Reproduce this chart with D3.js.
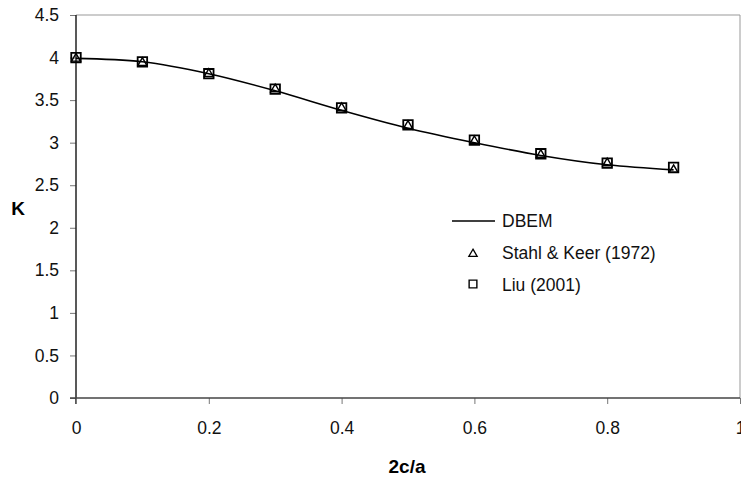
<!DOCTYPE html>
<html lang="en"><head>
<meta charset="UTF-8">
<title>K vs 2c/a</title>
<script src="https://cdn.jsdelivr.net/npm/d3@7"></script>
<style>
body { margin: 0; background: #fff; }
text { font-family: "Liberation Sans", Arial, sans-serif; }
</style>
</head>
<body>
<div id="chart"></div>
<script>

// values
var xVals = [0, 0.1, 0.2, 0.3, 0.4, 0.5, 0.6, 0.7, 0.8, 0.9];
var dbem = [3.99, 3.95, 3.81, 3.61, 3.38, 3.17, 3.00, 2.85, 2.74, 2.68];
var stahl = [4.00, 3.95, 3.82, 3.64, 3.42, 3.21, 3.03, 2.87, 2.77, 2.69];
var liu = [4.00, 3.95, 3.81, 3.63, 3.41, 3.21, 3.03, 2.87, 2.76, 2.71];
var xTicks = [0, 0.2, 0.4, 0.6, 0.8, 1];
var yTicks = [0, 0.5, 1, 1.5, 2, 2.5, 3, 3.5, 4, 4.5];
var legendNames = ["DBEM", "Stahl & Keer (1972)", "Liu (2001)"];

var width = 741, height = 480;
var margin = {left: 76, right: 1, top: 15, bottom: 82};

var svg = d3.select("#chart").append("svg")
  .attr("width", width)
  .attr("height", height);

var x = d3.scaleLinear().domain([0, 1]).range([margin.left, width - margin.right]);
var y = d3.scaleLinear().domain([0, 4.5]).range([height - margin.bottom, margin.top]);

// frame: grey top and right
svg.append("line")
  .attr("x1", x(0)).attr("x2", x(1)).attr("y1", y(4.5)).attr("y2", y(4.5))
  .attr("stroke", "#999").attr("stroke-width", 1);
svg.append("line")
  .attr("x1", x(1)).attr("x2", x(1)).attr("y1", y(4.5)).attr("y2", y(0))
  .attr("stroke", "#999").attr("stroke-width", 1);

// y axis
var yAxis = svg.append("g")
  .attr("transform", "translate(" + x(0) + ",0)")
  .call(d3.axisLeft(y).tickValues(yTicks).tickSize(6).tickPadding(11)
    .tickFormat(function (d) { return d; }));
yAxis.select(".domain").remove();
yAxis.selectAll(".tick line").attr("stroke", "#777");
yAxis.selectAll("text").attr("font-size", 17.5).attr("fill", "#111")
  .attr("font-family", "Liberation Sans, Arial, sans-serif");
svg.append("line")
  .attr("x1", x(0)).attr("x2", x(0)).attr("y1", y(4.5)).attr("y2", y(0) + 6)
  .attr("stroke", "#222").attr("stroke-width", 1.5);

// x axis
var xAxis = svg.append("g")
  .attr("transform", "translate(0," + y(0) + ")")
  .call(d3.axisBottom(x).tickValues(xTicks).tickSize(6).tickPadding(18)
    .tickFormat(function (d) { return d; }));
xAxis.select(".domain").remove();
xAxis.selectAll(".tick line").attr("stroke", "#777");
xAxis.selectAll("text").attr("font-size", 17.5).attr("fill", "#111")
  .attr("font-family", "Liberation Sans, Arial, sans-serif");
svg.append("line")
  .attr("x1", x(0) - 6).attr("x2", x(1)).attr("y1", y(0)).attr("y2", y(0))
  .attr("stroke", "#444").attr("stroke-width", 1.5);

// axis titles
svg.append("text")
  .attr("x", 18).attr("y", 215)
  .attr("text-anchor", "middle")
  .attr("font-size", 19).attr("font-weight", "bold")
  .text("K");
svg.append("text")
  .attr("x", 407).attr("y", 473)
  .attr("text-anchor", "middle")
  .attr("font-size", 19).attr("font-weight", "bold")
  .text("2c/a");

// DBEM smooth line
var lineData = xVals.map(function (d, i) { return [d, dbem[i]]; });
var line = d3.line()
  .x(function (d) { return x(d[0]); })
  .y(function (d) { return y(d[1]); })
  .curve(d3.curveCatmullRom.alpha(0.5));
svg.append("path")
  .datum(lineData)
  .attr("d", line)
  .attr("fill", "none")
  .attr("stroke", "#000")
  .attr("stroke-width", 1.6);

var tri = d3.symbol().type(d3.symbolTriangle).size(34);
var sq = d3.symbol().type(d3.symbolSquare).size(90);

// Stahl & Keer triangles
svg.selectAll(".tri").data(xVals).enter().append("path")
  .attr("class", "tri")
  .attr("d", tri)
  .attr("transform", function (d, i) { return "translate(" + x(d) + "," + (y(stahl[i]) + 1) + ")"; })
  .attr("fill", "none").attr("stroke", "#000").attr("stroke-width", 1.4);

// Liu squares
svg.selectAll(".sq").data(xVals).enter().append("path")
  .attr("class", "sq")
  .attr("d", sq)
  .attr("transform", function (d, i) { return "translate(" + x(d) + "," + y(liu[i]) + ")"; })
  .attr("fill", "none").attr("stroke", "#000").attr("stroke-width", 1.8);

// legend
var lg = svg.append("g");
lg.append("line")
  .attr("x1", 452).attr("x2", 495).attr("y1", 221).attr("y2", 221)
  .attr("stroke", "#000").attr("stroke-width", 1.6);
lg.append("path")
  .attr("d", d3.symbol().type(d3.symbolTriangle).size(30))
  .attr("transform", "translate(473,254)")
  .attr("fill", "none").attr("stroke", "#000").attr("stroke-width", 1.3);
lg.append("path")
  .attr("d", d3.symbol().type(d3.symbolSquare).size(60))
  .attr("transform", "translate(473,284)")
  .attr("fill", "none").attr("stroke", "#000").attr("stroke-width", 1.4);
lg.selectAll("text").data(legendNames).enter().append("text")
  .attr("x", 502)
  .attr("y", function (d, i) { return 227 + i * 32; })
  .attr("font-size", 17.5)
  .attr("fill", "#111")
  .text(function (d) { return d; });

</script>
</body></html>
